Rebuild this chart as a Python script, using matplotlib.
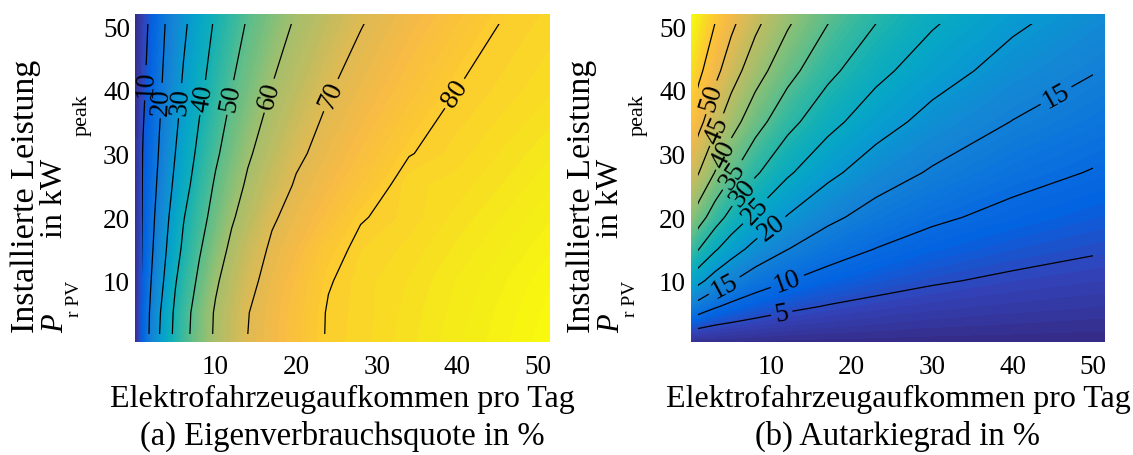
import numpy as np
import matplotlib
matplotlib.use("Agg")
import matplotlib.pyplot as plt
from matplotlib.colors import LinearSegmentedColormap
from matplotlib.patches import Rectangle

plt.rcParams['font.family'] = 'Liberation Serif'

# Stützstellen: Elektrofahrzeuge pro Tag (Spalten) und PV-Leistung in kWp (Zeilen)
ev_a = [0, 1, 2, 3, 4, 5, 6, 8, 10, 12, 14, 17, 20, 24, 28, 34, 40, 46, 52]
pv_a = [0, 5, 10, 15, 20, 25, 30, 40, 52]
# Eigenverbrauchsquote in %
eigenverbrauch = [
    [2, 13.8, 22.5, 30.0, 36.7, 42.3, 47.0, 54.9, 61.3, 65.8, 70.1, 73.3, 76.4, 80.5, 81.6, 83.7, 85.8, 87.9, 90.0],
    [2, 13.2, 21.8, 28.9, 35.7, 41.6, 46.3, 54.3, 60.9, 65.3, 69.8, 73.1, 76.2, 80.4, 81.5, 83.5, 85.5, 87.5, 89.5],
    [2, 12.2, 20.0, 26.5, 32.9, 39.4, 43.8, 51.8, 58.9, 63.8, 68.2, 72.3, 75.4, 79.7, 81.6, 83.1, 85.1, 87.0, 89.0],
    [2, 11.5, 18.6, 24.7, 30.6, 36.5, 41.5, 49.2, 56.0, 61.7, 66.0, 71.1, 73.9, 78.4, 81.0, 82.4, 84.3, 86.1, 88.0],
    [2, 11.1, 17.5, 23.3, 28.9, 34.2, 39.5, 46.8, 53.2, 59.1, 63.3, 69.2, 72.3, 75.7, 79.7, 81.5, 83.4, 85.2, 87.0],
    [2, 10.8, 16.4, 21.8, 26.9, 31.9, 36.7, 44.5, 51.1, 56.5, 61.2, 66.4, 70.7, 73.9, 77.1, 81.8, 82.5, 84.2, 86.0],
    [2, 10.5, 15.5, 20.5, 25.2, 30.0, 34.3, 42.3, 48.7, 54.0, 59.0, 64.1, 68.8, 72.3, 75.3, 79.8, 81.6, 83.3, 85.0],
    [2, 8.7, 13.8, 18.6, 22.9, 27.1, 31.1, 38.2, 44.3, 50.0, 54.2, 60.3, 64.3, 69.6, 72.4, 76.3, 80.0, 81.5, 83.0],
    [2, 6.8, 11.7, 16.4, 20.9, 24.5, 28.0, 34.5, 40.6, 45.4, 50.2, 55.3, 60.3, 64.8, 69.3, 73.1, 76.6, 80.0, 81.5],
]
levels_a = [10, 20, 30, 40, 50, 60, 70, 80]
labels_a = [(1.3, 41.1), (3.2, 38.3), (5.5, 38.3), (8.4, 38.8),
            (11.8, 38.8), (16.6, 39.1), (24.1, 39.3), (39.8, 39.3)]

ev_b = [0, 1, 3, 5, 8, 12, 17, 23, 30, 40, 52]
pv_b = [0, 3, 6, 10, 15, 20, 27, 35, 43, 52]
# Autarkiegrad in %
autarkie = [
    [0, 0, 0, 0, 0, 0, 0, 0, 0, 0, 0],
    [6.6, 5.9, 4.9, 4.3, 3.6, 2.9, 2.4, 2.0, 1.6, 1.3, 1.0],
    [14.5, 12.9, 10.5, 8.9, 7.3, 5.9, 4.8, 3.9, 3.2, 2.6, 2.1],
    [23.5, 21.2, 17.7, 15.3, 12.4, 10.1, 8.1, 6.6, 5.4, 4.3, 3.5],
    [32.9, 30.0, 25.6, 22.2, 18.4, 15.1, 12.2, 9.9, 8.1, 6.5, 5.2],
    [40.1, 37.2, 32.3, 28.4, 24.0, 19.7, 16.1, 13.1, 10.8, 8.7, 7.0],
    [47.9, 45.0, 39.8, 35.7, 30.7, 25.7, 21.2, 17.4, 14.5, 11.6, 9.4],
    [54.2, 51.4, 46.4, 42.1, 37.0, 31.6, 26.6, 22.1, 18.4, 14.9, 12.1],
    [59.0, 56.1, 51.4, 47.3, 42.1, 36.7, 31.3, 26.4, 22.2, 18.0, 14.7],
    [63.9, 60.7, 55.7, 51.8, 46.9, 41.4, 35.9, 30.8, 26.2, 21.4, 17.5],
]
levels_b = [5, 10, 15, 20, 25, 30, 35, 40, 45, 50, 55]
labels_b = [(2.58, 38.8), (3.42, 33.6), (4.45, 29.7), (5.28, 26.5), (6.52, 23.9),
            (7.97, 21.0), (10.46, 17.6), (4.25, 9.0), (12.1, 9.5), (11.3, 4.8),
            (45.4, 39.1)]

# parula
parula_pts = [
    (0.2081, 0.1663, 0.5292), (0.1959, 0.2645, 0.7279), (0.0117, 0.3875, 0.8820),
    (0.0498, 0.4586, 0.8641), (0.0793, 0.5200, 0.8312), (0.0343, 0.5966, 0.8199),
    (0.0228, 0.6535, 0.7768), (0.0843, 0.6928, 0.7062), (0.2178, 0.7250, 0.6193),
    (0.3953, 0.7459, 0.5244), (0.5709, 0.7485, 0.4494), (0.7184, 0.7411, 0.3905),
    (0.8507, 0.7299, 0.3360), (0.9739, 0.7314, 0.2666), (0.9880, 0.8066, 0.1794),
    (0.9598, 0.9218, 0.0948), (0.9763, 0.9831, 0.0538),
]
pos = [i * 4 / 63 for i in range(16)] + [1.0]
parula = LinearSegmentedColormap.from_list('parula', list(zip(pos, parula_pts)))

W, H = 1133, 456
fig = plt.figure(figsize=(W / 100, H / 100), dpi=100)


def draw_panel(ax, ev, pv, z, levels, label_pos):
    z = np.array(z)
    ax.contourf(ev, pv, z, levels=np.linspace(z.min(), z.max(), 90),
                cmap=parula, antialiased=False)
    cs = ax.contour(ev, pv, z, levels=levels, colors='k', linewidths=0.9)
    cs.set_clip_path(Rectangle((0.83, 1.7), 50 - 0.83, 50.3 - 1.7,
                               transform=ax.transData))
    ax.clabel(cs, manual=label_pos, inline=True, fmt='%d', fontsize=19.5,
              inline_spacing=4)
    ax.set_xlim(0, 51.5)
    ax.set_ylim(0.4, 51.9)
    ax.set_xticks([10, 20, 30, 40, 50])
    ax.set_yticks([10, 20, 30, 40, 50])
    ax.tick_params(axis='x', length=0, labelsize=19.5, pad=8.5)
    ax.tick_params(axis='y', length=0, labelsize=19.5, pad=3.6)
    for s in ax.spines.values():
        s.set_visible(False)


def px_text(x, y, s, size, **kw):
    # gedrehter Text, Anker = Beginn der Grundlinie in Pixeln
    fig.text(x / W, (H - y) / H, s, rotation=90, rotation_mode='anchor',
             ha='left', va='baseline', fontsize=size, **kw)


ax_a = fig.add_axes([135 / W, 1 - 343 / H, 415 / W, 328 / H])
ax_b = fig.add_axes([691 / W, 1 - 343 / H, 414 / W, 328 / H])
draw_panel(ax_a, ev_a, pv_a, eigenverbrauch, levels_a, labels_a)
draw_panel(ax_b, ev_b, pv_b, autarkie, levels_b, labels_b)

captions = ['(a) Eigenverbrauchsquote in %', '(b) Autarkiegrad in %']
for ax, cap, dx in [(ax_a, captions[0], 0), (ax_b, captions[1], 556)]:
    cx = (ax.get_position().x0 + ax.get_position().x1) / 2
    fig.text(cx, (H - 407) / H, 'Elektrofahrzeugaufkommen pro Tag',
             ha='center', va='baseline', fontsize=23)
    fig.text(cx, (H - 445) / H, cap, ha='center', va='baseline', fontsize=23.5)
    fig.text((26 + dx) / W, (H - 333) / H, 'Installierte Leistung',
             rotation=90, ha='center', va='bottom', fontsize=24.5)
    # P_{r PV} in kW_{peak}
    px_text(63 + dx, 333, 'P', 22, style='italic')
    px_text(79 + dx, 317, 'r PV', 14)
    px_text(62 + dx, 238, 'in kW', 23)
    px_text(87 + dx, 136, 'peak', 16)

fig.savefig('out.png', dpi=100)
